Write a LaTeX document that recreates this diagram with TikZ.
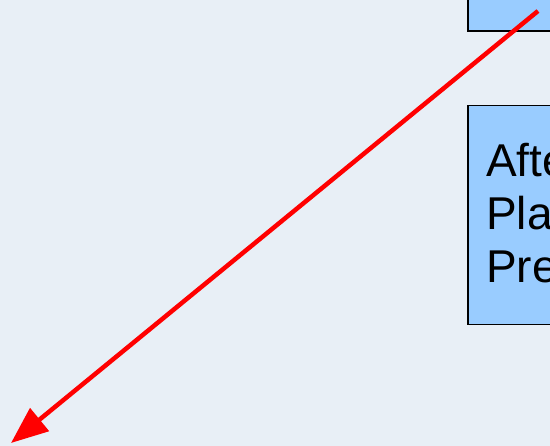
\documentclass[tikz,border=0pt]{standalone}
\usepackage{fontspec}
\setmainfont{Liberation Sans}
\usetikzlibrary{arrows.meta}
\definecolor{bg}{RGB}{232,239,246}
\definecolor{boxblue}{RGB}{153,204,255}
\definecolor{arrowred}{RGB}{255,0,0}
\begin{document}
\begin{tikzpicture}[x=1pt,y=1pt,
  box/.style={draw=black, line width=1.5pt, fill=boxblue, inner sep=0pt},
  bigtext/.style={font=\fontsize{46}{53}\selectfont, anchor=base west, inner sep=0pt},
  redarrow/.style={draw=arrowred, line width=4.5pt, -{Triangle[length=37pt,width=29pt]}}]
\useasboundingbox (0,0) rectangle (550,446);
\fill[bg] (0,0) rectangle (550,446);
\clip (0,0) rectangle (550,446);
\node[box, minimum width=150pt, minimum height=80pt, anchor=south west] (topbox) at (467,414) {};
\node[box, minimum width=150pt, minimum height=219pt, anchor=north west] (infobox) at (467,341) {};
\node[bigtext] (line1) at (486,269) {Afte};
\node[bigtext] (line2) at (486,216) {Pla};
\node[bigtext] (line3) at (486,163) {Pre};
\coordinate (start) at (538,435);
\coordinate (end) at (11,3);
\draw[redarrow] (start) -- (end);
\end{tikzpicture}
\end{document}
